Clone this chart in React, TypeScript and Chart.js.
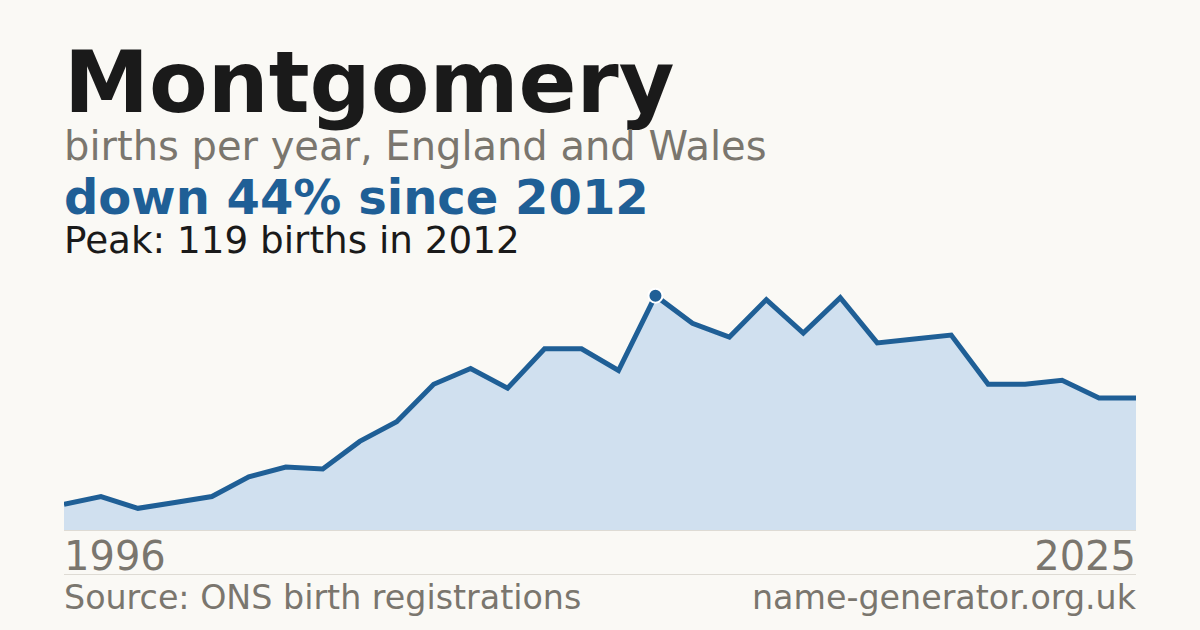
import { useEffect, useRef } from 'react';
import { Chart, registerables } from 'chart.js';

Chart.register(...registerables);

// Data
const years = [
  '1996', '1997', '1998', '1999', '2000', '2001', '2002', '2003', '2004', '2005',
  '2006', '2007', '2008', '2009', '2010', '2011', '2012', '2013', '2014', '2015',
  '2016', '2017', '2018', '2019', '2020', '2021', '2022', '2023', '2024', '2025',
];
const births = [
  13, 17, 11, 14, 17, 27, 32, 31, 45, 55,
  74, 82, 72, 92, 92, 81, 119, 105, 98, 117,
  100, 118, 95, 97, 99, 74, 74, 76, 67, 67,
];
const peakYear = '2012';
const yMax = 130;

const BG = '#faf9f5';
const BLUE = '#1f5f96';
const FILL = '#d0e0ef';
const GREY = '#7a766e';
const INK = '#1a1a1a';
const FONT = '"DejaVu Sans", sans-serif';

// px per birth from the reference: (530 - 296) / 119
const PX_PER_UNIT = 1.9664;
const chartBottom = 530;
const chartHeight = yMax * PX_PER_UNIT;

function BirthsChart() {
  const canvasRef = useRef<HTMLCanvasElement>(null);
  const chartInstance = useRef<Chart | null>(null);

  useEffect(() => {
    if (!canvasRef.current) return;
    const ctx = canvasRef.current.getContext('2d');
    if (!ctx) return;

    const peakIndex = years.indexOf(peakYear);

    chartInstance.current = new Chart(ctx, {
      type: 'line',
      data: {
        labels: years,
        datasets: [{
          data: births,
          borderColor: BLUE,
          backgroundColor: FILL,
          borderWidth: 5,
          fill: 'origin',
          tension: 0,
          pointRadius: births.map((_, i) => (i === peakIndex ? 7 : 0)),
          pointBackgroundColor: BLUE,
          pointBorderColor: '#ffffff',
          pointBorderWidth: 2,
          pointHoverRadius: 0,
        }],
      },
      options: {
        responsive: false,
        animation: false,
        maintainAspectRatio: false,
        layout: { padding: 0 },
        plugins: {
          legend: { display: false },
          tooltip: { enabled: false },
        },
        scales: {
          x: { display: false, offset: false },
          y: { display: false, min: 0, max: yMax },
        },
      },
    });

    return () => {
      if (chartInstance.current) {
        chartInstance.current.destroy();
        chartInstance.current = null;
      }
    };
  }, []);

  return (
    <canvas
      ref={canvasRef}
      width={1072}
      height={Math.round(chartHeight)}
      style={{
        position: 'absolute',
        left: 64,
        top: chartBottom - Math.round(chartHeight),
        width: 1072,
        height: Math.round(chartHeight),
      }}
    />
  );
}

// place text by its baseline (DejaVu Sans: baseline sits 0.846em below line top at line-height 1)
function Label(props: {
  text: string;
  baseline: number;
  size: number;
  color: string;
  bold?: boolean;
  right?: boolean;
}) {
  const { text, baseline, size, color, bold, right } = props;
  return (
    <div
      style={{
        position: 'absolute',
        top: baseline - 0.846 * size,
        left: right ? undefined : 64,
        right: right ? 64 : undefined,
        fontFamily: FONT,
        fontSize: size,
        fontWeight: bold ? 700 : 400,
        lineHeight: 1,
        color,
        whiteSpace: 'nowrap',
      }}
    >
      {text}
    </div>
  );
}

export default function App() {
  return (
    <div
      style={{
        position: 'fixed',
        left: 0,
        top: 0,
        width: 1200,
        height: 630,
        background: BG,
        overflow: 'hidden',
      }}
    >
      <Label text="Montgomery" baseline={112} size={85.5} color={INK} bold />
      <Label text="births per year, England and Wales" baseline={160} size={40} color={GREY} />
      <Label text="down 44% since 2012" baseline={214} size={48} color={BLUE} bold />
      <Label text="Peak: 119 births in 2012" baseline={254} size={37.3} color={INK} />

      <BirthsChart />
      <div style={{ position: 'absolute', left: 64, top: 530, width: 1072, height: 1, background: '#dedbd4' }} />

      <Label text={years[0]} baseline={570} size={40} color={GREY} />
      <Label text={years[years.length - 1]} baseline={570} size={40} color={GREY} right />
      <div style={{ position: 'absolute', left: 64, top: 574, width: 1072, height: 1, background: '#dedbd4' }} />

      <Label text="Source: ONS birth registrations" baseline={609} size={33.3} color={GREY} />
      <Label text="name-generator.org.uk" baseline={609} size={33.3} color={GREY} right />
    </div>
  );
}
